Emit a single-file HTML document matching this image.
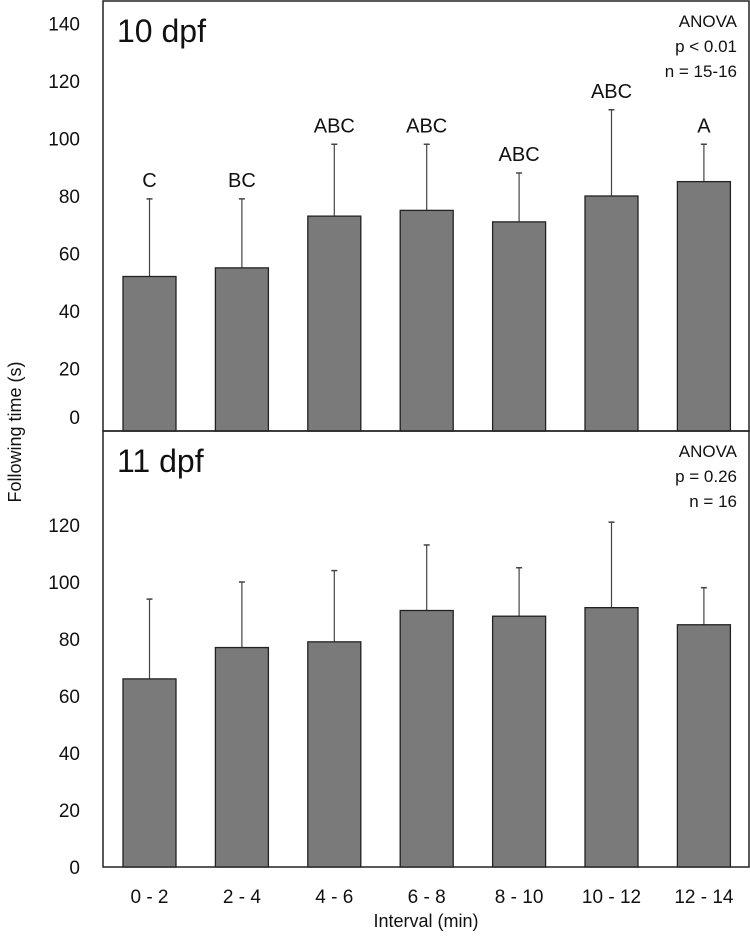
<!DOCTYPE html>
<html><head><meta charset="utf-8"><style>
body{margin:0;background:#fff;}
svg text{font-family:"Liberation Sans",Arial,sans-serif;fill:#111;}
</style></head><body>
<svg id="chart" width="750" height="942" xmlns="http://www.w3.org/2000/svg"></svg>
<script>
const categories = ["0 - 2","2 - 4","4 - 6","6 - 8","8 - 10","10 - 12","12 - 14"];
const means10 = [52, 55, 73, 75, 71, 80, 85];
const errTop10 = [79, 79, 98, 98, 88, 110, 98];
const letters10 = ["C","BC","ABC","ABC","ABC","ABC","A"];
const means11 = [66, 77, 79, 90, 88, 91, 85];
const errTop11 = [94, 100, 104, 113, 105, 121, 98];
const ticks10 = [0,20,40,60,80,100,120,140];
const ticks11 = [0,20,40,60,80,100,120];

const NS="http://www.w3.org/2000/svg";
const svg=document.getElementById('chart');
function mk(tag,attrs,parent){const e=document.createElementNS(NS,tag);for(const k in attrs)e.setAttribute(k,attrs[k]);(parent||svg).appendChild(e);return e;}
const left=103,right=749;
const xC=i=>149.5+i*92.4;
const bw=53;
const y10=v=>426-v*2.875;
const y11=v=>867-v*2.85;

function panel(name,top,bottom,yf,means,errs,ticks,letters,title,stats,labelMax){
  const g=mk('g',{});
  
  
  const r=mk('rect',{x:left,y:top,width:right-left,height:bottom-top,fill:'none',stroke:'#222','stroke-width':1.5},g);
  
  
  ticks.forEach(t=>{
    const tx=mk('text',{x:80,y:Math.min(yf(t),labelMax)+7,'text-anchor':'end','font-size':19},g);
    tx.textContent=t;
    
    
  });
  means.forEach((m,i)=>{
    const cx=xC(i);
    const el=mk('line',{x1:cx,x2:cx,y1:yf(errs[i]),y2:yf(m),stroke:'#444','stroke-width':1.2},g);
    
    
    const cap=mk('line',{x1:cx-3,x2:cx+3,y1:yf(errs[i]),y2:yf(errs[i]),stroke:'#444','stroke-width':1.5},g);
    
    
    const b=mk('rect',{x:cx-bw/2,y:yf(m),width:bw,height:bottom-yf(m),fill:'#7a7a7a',stroke:'#222','stroke-width':1.3},g);
    
    
    if(letters){
      const lt=mk('text',{x:cx,y:yf(errs[i])-12,'text-anchor':'middle','font-size':20},g);
      lt.textContent=letters[i];
      
      
    }
  });
  const tt=mk('text',{x:117,y:top+41,'font-size':32},g);
  tt.textContent=title;
  
  
  stats.forEach((s,k)=>{
    const st=mk('text',{x:737,y:top+26+k*25,'text-anchor':'end','font-size':17},g);
    st.textContent=s;
    
    
  });
}
panel('panel-10dpf',1,431,y10,means10,errTop10,ticks10,letters10,'10 dpf',['ANOVA','p < 0.01','n = 15-16'],417);
panel('panel-11dpf',431,867,y11,means11,errTop11,ticks11,null,'11 dpf',['ANOVA','p = 0.26','n = 16'],867);

categories.forEach((c,i)=>{
  const t=mk('text',{x:xC(i),y:903,'text-anchor':'middle','font-size':19});
  t.textContent=c;
  
  
});
const xt=mk('text',{x:426,y:927,'text-anchor':'middle','font-size':18});
xt.textContent='Interval (min)';


const yt=mk('text',{x:0,y:0,'text-anchor':'middle','font-size':18,transform:'translate(21,432) rotate(-90)'});
yt.textContent='Following time (s)';


</script>
</body></html>
